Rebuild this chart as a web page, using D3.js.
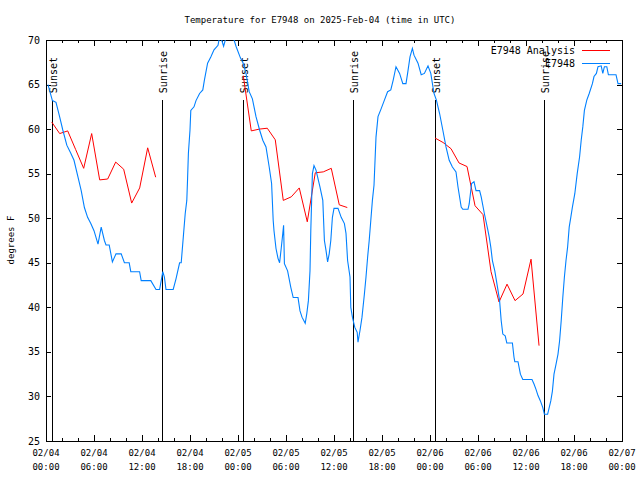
<!DOCTYPE html>
<html><head><meta charset="utf-8">
<script src="https://cdn.jsdelivr.net/npm/d3@7"></script>
<style>
html,body{margin:0;padding:0;background:#fff;}
text{font-family:"DejaVu Sans Mono","Liberation Mono",monospace;font-size:9px;fill:#000;}
text.big{font-size:10px;}
</style></head>
<body><svg id="chart" width="640" height="480"></svg>
<script>
const title = "Temperature for E7948 on 2025-Feb-04 (time in UTC)";
const yTicks = [25,30,35,40,45,50,55,60,65,70];
const seriesNames = ["E7948 Analysis", "E7948"];
const sunsetHours = [0.71, 24.66, 48.63];
const sunriseHours = [14.54, 38.41, 62.29];
// analysis: hourly values starting at each sunset
const analysisStep = [0,1,2,3,4,5,6,7,8,9,10,11,12,13];
const analysisTemps1 = [60.8,59.5,59.8,57.7,55.6,59.5,54.3,54.4,56.3,55.5,51.7,53.4,57.9,54.6];
const analysisTemps2 = [66.0,59.8,60.0,60.1,58.8,52.0,52.4,53.4,49.6,55.1,55.2,55.6,51.5,51.2];
const analysisTemps3 = [59.0,58.5,57.8,56.2,55.8,51.4,50.4,44.0,40.6,42.6,40.75,41.5,45.4,35.7];
// observations: [hours since 02/04 00:00 UTC, degrees F]
const obsPoints = [
[0.25,65.0],[0.8,63.2],[1.25,63.0],[1.7,61.4],[2.1,59.9],[2.6,58.2],[3.1,57.3],[3.5,56.5],[4.0,54.6],[4.4,53.1],
[4.8,51.2],[5.2,50.1],[5.6,49.4],[6.0,48.6],[6.5,47.1],[6.9,49.0],[7.3,47.5],[7.5,47.0],[7.9,47.0],[8.3,45.1],
[8.75,46.0],[9.4,46.0],[9.8,45.0],[10.4,45.0],[10.6,44.0],[11.7,44.0],[11.9,43.0],[13.1,43.0],[13.75,42.0],[14.2,42.0],
[14.6,44.0],[14.8,43.4],[15.0,42.0],[15.9,42.0],[16.25,43.2],[16.7,45.0],[16.9,45.0],[17.2,48.3],[17.4,50.5],[17.6,52.0],
[17.7,54.5],[17.8,57.3],[18.0,59.9],[18.1,62.1],[18.5,62.5],[18.75,63.2],[19.2,64.0],[19.6,64.4],[19.8,65.5],[20.2,67.4],
[20.6,68.1],[21.0,68.9],[21.5,69.4],[21.75,70.6],[22.2,69.3],[22.6,70.6],[23.3,70.6],[23.75,69.3],[24.3,68.0],[24.6,67.5],
[25.0,66.25],[25.4,64.2],[25.8,63.4],[26.25,61.4],[26.7,59.9],[27.1,58.75],[27.5,58.0],[27.9,55.75],[28.2,53.9],[28.4,49.75],
[28.5,48.6],[28.75,46.6],[29.0,45.5],[29.2,45.0],[29.4,46.6],[29.6,48.3],[29.7,49.2],[29.8,44.9],[30.2,44.1],[30.6,42.25],
[30.9,41.1],[31.5,41.1],[31.75,39.6],[32.0,38.9],[32.4,38.2],[32.6,39.3],[32.8,40.75],[33.0,44.1],[33.1,48.6],[33.3,55.0],
[33.5,55.9],[33.75,55.4],[34.25,53.5],[34.6,52.0],[34.8,47.5],[35.0,46.4],[35.2,45.1],[35.4,46.0],[35.6,47.5],[35.8,50.1],
[36.0,51.1],[36.5,51.1],[36.9,50.1],[37.3,49.4],[37.5,48.3],[37.7,45.25],[38.0,43.4],[38.1,40.0],[38.3,38.9],[38.6,37.75],
[38.9,37.2],[39.0,36.1],[39.25,37.4],[39.5,38.9],[39.8,41.5],[40.0,43.4],[40.2,45.6],[40.4,47.5],[40.6,49.75],[40.8,52.0],
[41.0,53.7],[41.25,59.1],[41.5,61.4],[41.9,62.3],[42.3,63.25],[42.7,64.2],[43.1,64.4],[43.4,65.5],[43.75,67.0],[44.2,66.25],
[44.6,65.1],[45.0,65.1],[45.2,66.25],[45.5,68.1],[45.8,69.06],[46.0,68.3],[46.5,67.4],[46.9,66.1],[47.3,66.25],[47.75,67.1],
[48.1,66.25],[48.5,64.0],[48.8,63.25],[49.2,61.75],[49.6,59.9],[50.0,58.0],[50.4,56.5],[50.8,55.75],[51.25,55.2],[51.5,53.5],
[51.9,51.25],[52.1,51.0],[52.75,51.0],[52.9,51.6],[53.2,53.9],[53.5,54.1],[53.75,53.1],[54.2,53.1],[54.4,52.4],[54.8,50.5],
[55.2,48.8],[55.4,47.9],[55.6,46.75],[55.8,45.25],[56.1,44.1],[56.5,41.9],[56.7,40.75],[56.9,38.5],[57.1,37.0],[57.4,36.8],
[57.6,36.0],[58.3,36.0],[58.5,34.4],[58.6,33.9],[59.0,33.9],[59.3,32.5],[59.6,31.9],[60.75,31.9],[61.0,31.4],[61.25,30.8],
[61.5,30.1],[61.8,29.5],[62.1,28.75],[62.3,28.0],[62.7,28.0],[62.9,28.75],[63.1,29.5],[63.3,30.6],[63.5,32.5],[63.75,33.6],
[64.0,34.75],[64.2,36.25],[64.4,38.5],[64.6,41.1],[64.8,43.4],[65.0,45.25],[65.2,46.75],[65.4,49.0],[65.6,50.1],[65.8,51.25],
[66.1,52.75],[66.4,55.0],[66.7,56.9],[66.9,58.75],[67.1,60.25],[67.3,62.1],[67.6,63.25],[67.9,64.0],[68.3,65.1],[68.5,65.9],
[68.8,66.25],[69.0,67.0],[69.4,67.1],[69.6,66.25],[69.8,67.0],[70.1,67.0],[70.3,66.1],[71.25,66.1],[71.5,65.1],[71.9,65.1]
];

const t0 = Date.UTC(2025,1,4);
const H = 3600e3;
const toDate = h => new Date(t0 + h*H);

const svg = d3.select("#chart");
const L=46, R=622, T=40, B=441;
const x = d3.scaleUtc().domain([new Date(t0), new Date(t0+72*H)]).range([L,R]);
const y = d3.scaleLinear().domain([25,70]).range([B,T]);

svg.append("defs").append("clipPath").attr("id","clip")
  .append("rect").attr("x",L).attr("y",T).attr("width",R-L).attr("height",B-T);

// title
svg.append("text").attr("x",320).attr("y",23).attr("text-anchor","middle").text(title);
// y label
svg.append("text").attr("transform","translate(14,240) rotate(-90)").attr("text-anchor","middle").text("degrees F");

const crisp = g => g.attr("shape-rendering","crispEdges");

// axes box
svg.append("rect").attr("x",L+0.5).attr("y",T+0.5).attr("width",R-L).attr("height",B-T)
  .attr("fill","none").attr("stroke","#000").attr("stroke-width",1).call(crisp);

// x ticks
const major = d3.utcHour.every(6).range(new Date(t0), new Date(t0+72*H+1));
const minor = d3.utcHour.every(2).range(new Date(t0), new Date(t0+72*H+1));
const fmtD = d3.utcFormat("%m/%d"), fmtT = d3.utcFormat("%H:%M");
const tk = svg.append("g").attr("stroke","#000").call(crisp);
minor.forEach(d=>{
  const px = Math.round(x(d))+0.5;
  const len = (d.getUTCHours()%6===0)?6:3;
  tk.append("line").attr("x1",px).attr("x2",px).attr("y1",B).attr("y2",B-len);
  tk.append("line").attr("x1",px).attr("x2",px).attr("y1",T).attr("y2",T+len);
});
yTicks.forEach(v=>{
  const py = Math.round(y(v))+0.5;
  tk.append("line").attr("x1",L).attr("x2",L+5).attr("y1",py).attr("y2",py);
  tk.append("line").attr("x1",R).attr("x2",R-5).attr("y1",py).attr("y2",py);
});
const xl = svg.append("g");
major.forEach(d=>{
  xl.append("text").attr("x",x(d)).attr("y",456).attr("text-anchor","middle").text(fmtD(d));
  xl.append("text").attr("x",x(d)).attr("y",470).attr("text-anchor","middle").text(fmtT(d));
});
const yl = svg.append("g");
yTicks.forEach(v=>{
  yl.append("text").attr("class","big").attr("x",40).attr("y",y(v)+3.5).attr("text-anchor","end").text(v);
});

// sunrise / sunset
const sunG = svg.append("g");
const yTop = B - 0.85*(B-T);
function sunLine(h, label){
  const px = Math.round(x(toDate(h)))+0.5;
  sunG.append("line").attr("x1",px).attr("x2",px).attr("y1",B).attr("y2",yTop)
    .attr("stroke","#000").attr("stroke-width",1).call(crisp);
  sunG.append("text").attr("class","big").attr("transform",`translate(${px+4},${yTop-7}) rotate(-90)`)
    .attr("text-anchor","start").text(label);
}
sunsetHours.forEach(h=>sunLine(h,"Sunset"));
sunriseHours.forEach(h=>sunLine(h,"Sunrise"));

// data
const plot = svg.append("g").attr("clip-path","url(#clip)");
const line = d3.line().x(d=>x(toDate(d[0]))).y(d=>y(d[1]));
[analysisTemps1, analysisTemps2, analysisTemps3].forEach((arr,i)=>{
  const pts = arr.map((v,k)=>[sunsetHours[i]+analysisStep[k], v]);
  plot.append("path").attr("d",line(pts)).attr("fill","none").attr("stroke","#ff0000").attr("stroke-width",1);
});
plot.append("path").attr("d",line(obsPoints)).attr("fill","none").attr("stroke","#0080ff").attr("stroke-width",1.1);

// legend
const colors = ["#ff0000","#0080ff"];
seriesNames.forEach((n,i)=>{
  const ly = 50 + i*13;
  svg.append("text").attr("class","big").attr("x",575).attr("y",ly+3.5).attr("text-anchor","end").text(n);
  svg.append("line").attr("x1",582).attr("x2",610).attr("y1",ly+0.5).attr("y2",ly+0.5)
    .attr("stroke",colors[i]).attr("stroke-width",1).call(crisp);
});
</script></body></html>
